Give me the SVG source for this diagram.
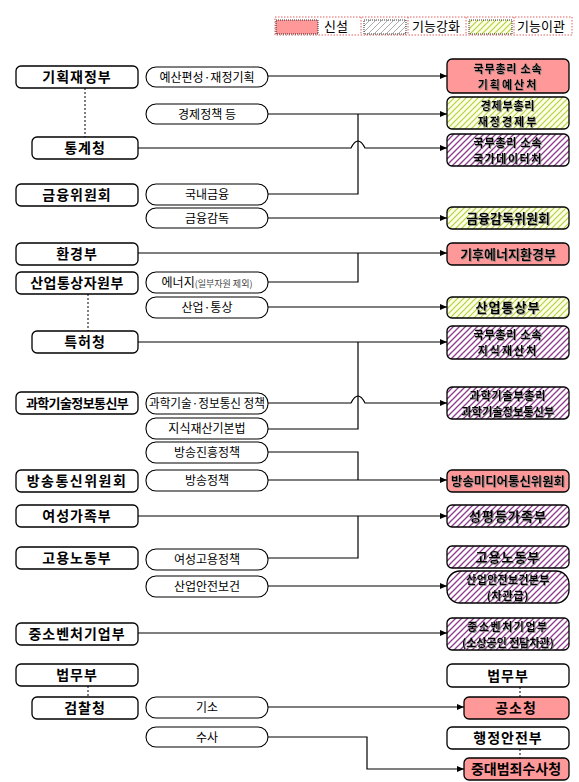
<svg xmlns="http://www.w3.org/2000/svg" width="579" height="782" viewBox="0 0 579 782">
<defs>
<pattern id="hPurple" patternUnits="userSpaceOnUse" width="6" height="6">
<rect width="6" height="6" fill="#ffffff"/>
<path d="M-1,7 L7,-1 M-1,1 L1,-1 M5,7 L7,5" stroke="#8e3a8e" stroke-width="1.3"/>
</pattern>
<pattern id="hGreen" patternUnits="userSpaceOnUse" width="6" height="6">
<rect width="6" height="6" fill="#fbffe8"/>
<path d="M-1,7 L7,-1 M-1,1 L1,-1 M5,7 L7,5" stroke="#b8d040" stroke-width="1.2"/>
</pattern>
<pattern id="hGray" patternUnits="userSpaceOnUse" width="6" height="6">
<rect width="6" height="6" fill="#ffffff"/>
<path d="M-1,7 L7,-1 M-1,1 L1,-1 M5,7 L7,5" stroke="#a0a0a0" stroke-width="0.9"/>
</pattern>
<marker id="arr" markerWidth="8" markerHeight="8" refX="7" refY="4" orient="auto" markerUnits="userSpaceOnUse">
<path d="M0,1 L7,4 L0,7 Z" fill="#000"/>
</marker>
<filter id="sh" x="-5%" y="-5%" width="110%" height="120%">
<feDropShadow dx="0.8" dy="0.8" stdDeviation="0.2" flood-color="#777" flood-opacity="0.9"/>
</filter>
</defs>
<style>
text{font-family:"Noto Sans CJK KR","Noto Sans",sans-serif;fill:#000;text-anchor:middle}
.box{fill:#fff;stroke:#000;stroke-width:1.3}
.pill{fill:#fff;stroke:#000;stroke-width:1.1}
.red{fill:#ff9999;stroke:#000;stroke-width:1.3}
.grn{fill:url(#hGreen);stroke:#000;stroke-width:1.3}
.pur{fill:url(#hPurple);stroke:#000;stroke-width:1.3}
.lt{font-size:14px;font-weight:bold;letter-spacing:1px}
.pt{font-size:12px}
.rt{font-size:13px;font-weight:bold;filter:url(#sh)}
.r2{font-size:11px;font-weight:bold;letter-spacing:0.8px;filter:url(#sh)}
.ln{fill:none;stroke:#000;stroke-width:1.2}
.dot{fill:none;stroke:#000;stroke-width:1;stroke-dasharray:2,2}
.lg{font-size:13px;text-anchor:start}
</style>

<g id="legend">
<rect x="275" y="17" width="297" height="18" fill="none" stroke="#e06060" stroke-width="1" stroke-dasharray="1.5,1.5"/>
<line x1="361" y1="17" x2="361" y2="35" stroke="#e06060" stroke-dasharray="1.5,1.5"/>
<line x1="408" y1="17" x2="408" y2="35" stroke="#e06060" stroke-dasharray="1.5,1.5"/>
<line x1="466" y1="17" x2="466" y2="35" stroke="#e06060" stroke-dasharray="1.5,1.5"/>
<line x1="514" y1="17" x2="514" y2="35" stroke="#e06060" stroke-dasharray="1.5,1.5"/>
<rect x="276" y="20" width="42" height="14" fill="#ff9999" stroke="#000" stroke-width="0.8" stroke-dasharray="1,1"/>
<text class="lg" x="324" y="31">신설</text>
<rect x="364" y="20" width="42" height="14" fill="url(#hGray)" stroke="#000" stroke-width="0.8" stroke-dasharray="1,1"/>
<text class="lg" x="412" y="31">기능강화</text>
<rect x="469" y="20" width="43" height="14" fill="url(#hGreen)" stroke="#000" stroke-width="0.8" stroke-dasharray="1,1"/>
<text class="lg" x="517" y="31">기능이관</text>
</g>

<g id="connectors">
<path class="ln" d="M268,76 H447" marker-end="url(#arr)"/>
<path class="ln" d="M268,114 H447" marker-end="url(#arr)"/>
<path class="ln" d="M138,148 H351 Q358,134 365,148 H447" marker-end="url(#arr)"/>
<path class="ln" d="M358,114 V194 H268"/>
<path class="ln" d="M268,218 H447" marker-end="url(#arr)"/>
<path class="ln" d="M138,253 H447" marker-end="url(#arr)"/>
<path class="ln" d="M358,253 V282 H268"/>
<path class="ln" d="M268,307 H447" marker-end="url(#arr)"/>
<path class="ln" d="M138,342 H447" marker-end="url(#arr)"/>
<path class="ln" d="M358,342 V429 H268"/>
<path class="ln" d="M268,403 H351 Q358,389 365,403 H447" marker-end="url(#arr)"/>
<path class="ln" d="M268,452 H358 V480"/>
<path class="ln" d="M268,480 H447" marker-end="url(#arr)"/>
<path class="ln" d="M138,516 H447" marker-end="url(#arr)"/>
<path class="ln" d="M358,516 V558 H268"/>
<path class="ln" d="M268,586 H447" marker-end="url(#arr)"/>
<path class="ln" d="M138,633 H447" marker-end="url(#arr)"/>
<path class="ln" d="M268,707 H464" marker-end="url(#arr)"/>
<path class="ln" d="M268,737 H367 V769 H464" marker-end="url(#arr)"/>
<path class="dot" d="M85,88 V137"/>
<path class="dot" d="M88,294 V331"/>
<path class="dot" d="M88,686 V697"/>
<path class="dot" d="M520,687 V697"/>
<path class="dot" d="M520,749 V758"/>
</g>

<g id="left-nodes">
<g id="n-mosf"><rect class="box" x="16" y="66" width="122" height="22" rx="5"/><text class="lt" x="77" y="82">기획재정부</text></g>
<g id="n-kostat"><rect class="box" x="32" y="137" width="106" height="22" rx="5"/><text class="lt" x="85" y="153">통계청</text></g>
<g id="n-fsc"><rect class="box" x="16" y="184" width="122" height="22" rx="5"/><text class="lt" x="77" y="200">금융위원회</text></g>
<g id="n-me"><rect class="box" x="16" y="243" width="122" height="22" rx="5"/><text class="lt" x="77" y="259">환경부</text></g>
<g id="n-motie"><rect class="box" x="16" y="272" width="122" height="22" rx="5"/><text class="lt" x="77" y="288" style="letter-spacing:0.5px">산업통상자원부</text></g>
<g id="n-kipo"><rect class="box" x="32" y="331" width="106" height="22" rx="5"/><text class="lt" x="85" y="347">특허청</text></g>
<g id="n-msit"><rect class="box" x="16" y="392" width="122" height="22" rx="5"/><text class="lt" x="77" y="408" style="font-size:13px;letter-spacing:-0.6px">과학기술정보통신부</text></g>
<g id="n-kcc"><rect class="box" x="16" y="470" width="122" height="22" rx="5"/><text class="lt" x="77" y="486" style="letter-spacing:1.5px">방송통신위원회</text></g>
<g id="n-mogef"><rect class="box" x="16" y="505" width="122" height="22" rx="5"/><text class="lt" x="77" y="521">여성가족부</text></g>
<g id="n-moel"><rect class="box" x="16" y="547" width="122" height="22" rx="5"/><text class="lt" x="77" y="563">고용노동부</text></g>
<g id="n-mss"><rect class="box" x="16" y="623" width="122" height="22" rx="5"/><text class="lt" x="77" y="639">중소벤처기업부</text></g>
<g id="n-moj"><rect class="box" x="16" y="664" width="122" height="22" rx="5"/><text class="lt" x="77" y="680">법무부</text></g>
<g id="n-spo"><rect class="box" x="32" y="697" width="106" height="22" rx="5"/><text class="lt" x="85" y="713">검찰청</text></g>
</g>

<g id="function-labels">
<g id="p1"><rect class="pill" x="146" y="67" width="122" height="20" rx="10"/><text class="pt" x="207" y="81.5">예산편성·재정기획</text></g>
<g id="p2"><rect class="pill" x="146" y="104" width="122" height="20" rx="10"/><text class="pt" x="207" y="118.5">경제정책 등</text></g>
<g id="p3"><rect class="pill" x="146" y="184" width="122" height="21" rx="10"/><text class="pt" x="207" y="199">국내금융</text></g>
<g id="p4"><rect class="pill" x="146" y="208" width="122" height="20" rx="10"/><text class="pt" x="207" y="222.5">금융감독</text></g>
<g id="p5"><rect class="pill" x="146" y="272" width="122" height="21" rx="10"/><text class="pt" x="207" y="287"><tspan>에너지</tspan><tspan style="font-size:9px;fill:#444">(일부자원 제외)</tspan></text></g>
<g id="p6"><rect class="pill" x="146" y="297" width="122" height="21" rx="10"/><text class="pt" x="207" y="312">산업·통상</text></g>
<g id="p7"><rect class="pill" x="146" y="393" width="122" height="21" rx="10"/><text class="pt" x="207" y="408" textLength="116" lengthAdjust="spacingAndGlyphs">과학기술·정보통신 정책</text></g>
<g id="p8"><rect class="pill" x="146" y="418" width="122" height="21" rx="10"/><text class="pt" x="207" y="433">지식재산기본법</text></g>
<g id="p9"><rect class="pill" x="146" y="442" width="122" height="21" rx="10"/><text class="pt" x="207" y="457">방송진흥정책</text></g>
<g id="p10"><rect class="pill" x="146" y="470" width="122" height="21" rx="10"/><text class="pt" x="207" y="485">방송정책</text></g>
<g id="p11"><rect class="pill" x="146" y="549" width="122" height="21" rx="10"/><text class="pt" x="207" y="564">여성고용정책</text></g>
<g id="p12"><rect class="pill" x="146" y="576" width="122" height="21" rx="10"/><text class="pt" x="207" y="591">산업안전보건</text></g>
<g id="p13"><rect class="pill" x="146" y="697" width="122" height="21" rx="10"/><text class="pt" x="207" y="712">기소</text></g>
<g id="p14"><rect class="pill" x="146" y="727" width="122" height="20" rx="10"/><text class="pt" x="207" y="741.5">수사</text></g>
</g>

<g id="right-nodes">
<g id="r1"><rect class="red" x="447" y="59" width="122" height="34" rx="5"/><text class="r2" x="508" y="72.5">국무총리 소속</text><text class="r2" x="508" y="88.5" style="letter-spacing:2px">기획예산처</text></g>
<g id="r2"><rect class="grn" x="447" y="97" width="122" height="32" rx="5"/><text class="r2" x="508" y="109.5">경제부총리</text><text class="r2" x="508" y="125.5" style="letter-spacing:2px">재정경제부</text></g>
<g id="r3"><rect class="pur" x="447" y="134" width="122" height="32" rx="5"/><text class="r2" x="508" y="146.5">국무총리 소속</text><text class="r2" x="508" y="162.5" style="letter-spacing:1.5px">국가데이터처</text></g>
<g id="r4"><rect class="grn" x="447" y="207" width="122" height="22" rx="5"/><text class="rt" x="508" y="222.5">금융감독위원회</text></g>
<g id="r5"><rect class="red" x="447" y="243" width="122" height="22" rx="5"/><text class="rt" x="508" y="258.5">기후에너지환경부</text></g>
<g id="r6"><rect class="grn" x="447" y="297" width="122" height="21" rx="5"/><text class="rt" x="508" y="312" style="letter-spacing:1px">산업통상부</text></g>
<g id="r7"><rect class="pur" x="447" y="326" width="122" height="33" rx="5"/><text class="r2" x="508" y="339">국무총리 소속</text><text class="r2" x="508" y="355" style="letter-spacing:2px">지식재산처</text></g>
<g id="r8"><rect class="pur" x="447" y="387" width="122" height="32" rx="5"/><text class="r2" x="508" y="399.5">과학기술부총리</text><text class="r2" x="508" y="415.5" style="letter-spacing:0.2px">과학기술정보통신부</text></g>
<g id="r9"><rect class="red" x="447" y="470" width="122" height="22" rx="5"/><text class="rt" x="508" y="485.5" textLength="114" lengthAdjust="spacingAndGlyphs" style="font-size:12px">방송미디어통신위원회</text></g>
<g id="r10"><rect class="pur" x="447" y="505" width="122" height="22" rx="5"/><text class="rt" x="508" y="520.5" style="letter-spacing:1px">성평등가족부</text></g>
<g id="r11"><rect class="pur" x="447" y="546" width="122" height="22" rx="5"/><text class="rt" x="508" y="561.5" style="letter-spacing:1px">고용노동부</text></g>
<g id="r12"><rect class="pur" x="447" y="571" width="122" height="32" rx="13"/><text class="r2" x="508" y="584" style="letter-spacing:0.3px">산업안전보건본부</text><text class="r2" x="508" y="600">(차관급)</text></g>
<g id="r13"><rect class="pur" x="447" y="618" width="122" height="32" rx="5"/><text class="r2" x="508" y="630.5" style="letter-spacing:1.5px">중소벤처기업부</text><text class="r2" x="508" y="646.5" style="letter-spacing:0px">(소상공인 전담차관)</text></g>
<g id="r14"><rect class="box" x="447" y="664" width="122" height="23" rx="5"/><text class="lt" x="508" y="680.5">법무부</text></g>
<g id="r15"><rect class="red" x="464" y="697" width="105" height="22" rx="5"/><text class="lt" x="516" y="713">공소청</text></g>
<g id="r16"><rect class="box" x="447" y="727" width="122" height="22" rx="5"/><text class="lt" x="508" y="743">행정안전부</text></g>
<g id="r17"><rect class="red" x="464" y="758" width="105" height="22" rx="5"/><text class="lt" x="516" y="774" style="letter-spacing:0px">중대범죄수사청</text></g>
</g>
</svg>
